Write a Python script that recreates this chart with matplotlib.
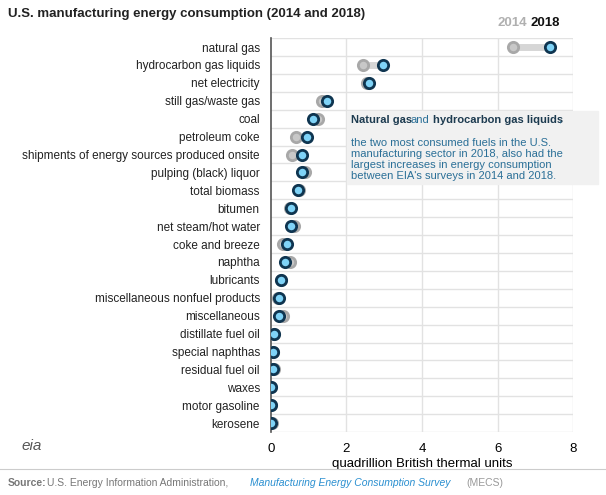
import matplotlib.pyplot as plt

plt.rcParams['font.family'] = ['Liberation Sans', 'DejaVu Sans']

fuels = ['natural gas', 'hydrocarbon gas liquids', 'net electricity', 'still gas/waste gas',
         'coal', 'petroleum coke', 'shipments of energy sources produced onsite',
         'pulping (black) liquor', 'total biomass', 'bitumen', 'net steam/hot water',
         'coke and breeze', 'naphtha', 'lubricants', 'miscellaneous nonfuel products',
         'miscellaneous', 'distillate fuel oil', 'special naphthas', 'residual fuel oil',
         'waxes', 'motor gasoline', 'kerosene']
v2014 = [6.41, 2.44, 2.55, 1.35, 1.25, 0.66, 0.56, 0.90, 0.74, 0.50, 0.60,
         0.32, 0.50, 0.27, 0.20, 0.32, 0.08, 0.06, 0.07, 0.01, 0.01, 0.03]
v2018 = [7.39, 2.97, 2.60, 1.48, 1.11, 0.95, 0.82, 0.82, 0.71, 0.53, 0.53,
         0.42, 0.37, 0.27, 0.21, 0.21, 0.08, 0.06, 0.06, 0.01, 0.01, 0.01]

fig = plt.figure(figsize=(6.06, 4.95), dpi=100)
ax = fig.add_axes([0.447, 0.127, 0.499, 0.796])
n = len(fuels)
ys = list(range(n))
ax.set_xlim(0, 8)
ax.set_ylim(n - 0.5, -0.5)
for i in range(n):
    ax.plot([v2014[i], v2018[i]], [i, i], color='#d6d6d6', lw=5, solid_capstyle='butt', zorder=2)
ax.scatter(v2014, ys, s=55, color='#c8c8c8', edgecolor='#a8a8a8', linewidth=2, zorder=3)
ax.scatter(v2018, ys, s=55, color='#7fd3f7', edgecolor='#0f3550', linewidth=2, zorder=4)

ax.set_yticks(ys)
ax.set_yticklabels(fuels, fontsize=8.5, color='#222222')
ax.set_xticks([0, 2, 4, 6, 8])
ax.tick_params(axis='x', length=0, labelsize=9.5, pad=8)
ax.tick_params(axis='y', length=0, pad=8)
for y in [i + 0.5 for i in range(-1, n)]:
    ax.axhline(y, color='#e2e2e2', lw=1, zorder=0)
for x in [2, 4, 6, 8]:
    ax.axvline(x, color='#e2e2e2', lw=1, zorder=0)
for s in ['top', 'right', 'bottom']:
    ax.spines[s].set_visible(False)
ax.spines['left'].set_color('#555555')
ax.spines['left'].set_linewidth(1.2)
ax.set_xlabel('quadrillion British thermal units', fontsize=9.5, labelpad=2)

fig.text(0.013, 0.965, 'U.S. manufacturing energy consumption (2014 and 2018)',
         fontsize=9.5, fontweight='bold', color='#222222')
fig.text(0.845, 0.947, '2014', fontsize=9.5, fontweight='bold', color='#b0b0b0', ha='center')
fig.text(0.9, 0.947, '2018', fontsize=9.5, fontweight='bold', color='#111111', ha='center')

fig.patches.append(plt.Rectangle((0.572, 0.628), 0.415, 0.148, transform=fig.transFigure,
                                 color='#f1f1f1', zorder=5))
blue = '#2a6f97'
fig.text(0.579, 0.752, 'Natural gas', fontsize=8, fontweight='bold', color='#1d3b50', zorder=6)
fig.text(0.678, 0.752, 'and', fontsize=8, color=blue, zorder=6)
fig.text(0.714, 0.752, 'hydrocarbon gas liquids', fontsize=8, fontweight='bold', color='#1d3b50', zorder=6)
fig.text(0.921, 0.752, ',', fontsize=8, color=blue, zorder=6)
fig.text(0.579, 0.638, 'the two most consumed fuels in the U.S.\nmanufacturing sector in 2018, also had the\n'
         'largest increases in energy consumption\nbetween EIA\'s surveys in 2014 and 2018.',
         fontsize=8, color=blue, linespacing=1.15, zorder=6)

fig.text(0.035, 0.09, 'eia', fontsize=11, color='#555555', style='italic')
fig.lines.append(plt.Line2D([0.0, 1.0], [0.052, 0.052], transform=fig.transFigure, color='#cccccc', lw=0.8))
fig.text(0.013, 0.018, 'Source:', fontsize=7.5, fontweight='bold', color='#777777')
fig.text(0.078, 0.018, 'U.S. Energy Information Administration,', fontsize=7.5, color='#777777')
fig.text(0.413, 0.018, 'Manufacturing Energy Consumption Survey', fontsize=7.5, color='#2a8fd0', style='italic')
fig.text(0.77, 0.018, '(MECS)', fontsize=7.5, color='#999999')

fig.savefig('out.png', dpi=100)
